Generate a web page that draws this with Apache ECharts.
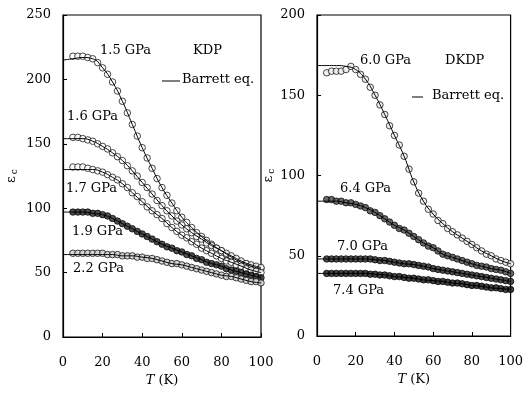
<!DOCTYPE html>
<html>
<head>
<meta charset="utf-8">
<script src="https://cdn.jsdelivr.net/npm/echarts@6/dist/echarts.min.js"></script>
<style>
  html, body { margin: 0; padding: 0; background: #fff; }
  #chart { width: 526px; height: 394px; }
</style>
</head>
<body>
<div id="chart"></div>
<script>
// temperatures (K) of the measured points and of the fit curves
var tData = [5,7.5,10,12.5,15,17.5,20,22.5,25,27.5,30,32.5,35,37.5,40,42.5,45,47.5,50,52.5,55,57.5,60,62.5,65,67.5,70,72.5,75,77.5,80,82.5,85,87.5,90,92.5,95,97.5,100];
var tFit = [0,5,10,15,20,25,30,35,40,45,50,55,60,65,70,75,80,85,90,95,100];
var xTicks = [0,20,40,60,80,100];

// KDP
var kdp15 = [218,218,218,217,216,213,209,204,198,191,183,174,165,156,147,139,131,123,116,110,104,98,93,89,85,81,78,75,72,69,67,64,62,60,58,57,55,54,53];
var kdp16 = [155,155,154,153,152,150,148,146,143,140,137,133,129,125,120,116,111,106,102,98,94,90,87,84,81,78,76,73,71,69,67,65,63,61,59,57,56,55,54];
var kdp17 = [132,132,132,131,130,129,128,126,124,122,119,116,112,109,105,101,98,95,92,88,85,82,79,77,74,72,69,67,65,63,61,59,58,56,55,53,52,51,50];
var kdp19 = [97,97,97,97,96,96,95,94,92,90,88,86,84,82,80,78,76,74,72,70,69,67,66,64,63,61,60,58,57,56,55,53,52,51,50,49,48,47,46];
var kdp22 = [65,65,65,65,65,65,65,64,64,64,63,63,63,62,62,61,61,60,59,58,57,57,56,55,54,53,52,51,50,49,48,47,47,46,45,44,43,43,42];
var fit15 = [215,216,217,216,209,198,183,165,147,131,116,104,93,85,78,72,67,62,58,55,53];
var fit16 = [154,154,154,152,148,143,137,129,120,111,102,94,87,81,76,71,67,63,59,56,54];
var fit17 = [130,130,130,130,128,124,119,112,105,98,92,85,79,74,69,65,61,58,55,52,50];
var fit19 = [97,97,97,96,95,92,88,84,80,76,72,69,66,63,60,57,55,52,50,48,46];
var fit22 = [64,64,64,64,64,64,63,63,62,61,59,57,56,54,52,50,48,47,45,43,42];

// DKDP
var dk60 = [164,165,165,165,166,168,166,163,160,155,150,144,138,131,125,119,112,104,96,89,84,79,76,72,70,67,65,63,61,59,57,55,53,51,50,48,47,46,45];
var dk64 = [85,85,84,84,83,83,82,81,80,78,77,75,73,71,69,67,66,64,62,60,58,56,55,53,51,50,49,48,47,46,45,44,43.5,43,42,41.5,41,40,39];
var dk70 = [48,48,48,48,48,48,48,48,48,48,47.5,47,47,46.5,46,45.5,45,45,44.5,44,43.5,43,42,41.5,41,40.5,40,39.5,39,38.5,38,37.5,37,36.5,36,35.5,35,34.5,34];
var dk74 = [39,39,39,39,39,39,39,39,39,38.5,38.5,38,38,37.5,37,37,36.5,36,36,35.5,35,35,34.5,34,34,33.5,33,33,32.5,32,31.5,31.5,31,30.5,30,30,29.5,29,29];
var fit60 = [168.5,168.5,168.5,168,166,160,150,138,125,112,96,84,76,70,65,61,57,53,50,47,45];
var fit64 = [84,84,84,83,82,80,77,73,69,66,62,58,55,51,49,47,45,43.5,42,41,39];
var fit70 = [48,48,48,48,48,48,47.5,47,46,45,44.5,43.5,42,41,40,39,38,37,36,35,34];
var fit74 = [39,39,39,39,39,39,38.5,38,37,36.5,36,35,34.5,34,33,32.5,31.5,31,30,29.5,29];

var serif = 'DejaVu Serif';

function pairs(xs, ys){
	var out = [];
	for (var i = 0; i < ys.length; i++) out.push([xs[i], ys[i]]);
	return out;
}

function pts(idx, vals, fill){
	return {
		type: 'scatter', xAxisIndex: idx, yAxisIndex: idx,
		data: pairs(tData, vals), symbol: 'circle', symbolSize: 6.5,
		itemStyle: { color: fill, borderColor: '#000', borderWidth: 0.9 },
		silent: true, z: 3
	};
}

function fit(idx, vals){
	return {
		type: 'line', xAxisIndex: idx, yAxisIndex: idx,
		data: pairs(tFit, vals), smooth: true, showSymbol: false,
		lineStyle: { color: '#000', width: 1 }, silent: true, z: 4
	};
}

function xAx(idx){
	return {
		gridIndex: idx, type: 'value', min: 0, max: 100, interval: 20,
		name: '{i|T} (K)', nameLocation: 'middle', nameGap: 36,
		nameTextStyle: { fontFamily: serif, fontSize: 13, color: '#000',
			rich: { i: { fontFamily: serif, fontStyle: 'italic', fontSize: 13, color: '#000' } } },
		axisLine: { lineStyle: { color: '#000', width: 1.2 } },
		axisTick: { inside: true, length: 4, lineStyle: { color: '#000' } },
		axisLabel: { fontFamily: serif, fontSize: 13, color: '#000', margin: 19 },
		splitLine: { show: false }
	};
}

function yAx(idx, max, gap){
	return {
		gridIndex: idx, type: 'value', min: 0, max: max, interval: 50,
		name: '{e|ε}{s|c}', nameLocation: 'middle', nameGap: gap, nameRotate: 90,
		nameTextStyle: { rich: {
			e: { fontFamily: serif, fontSize: 13, color: '#000' },
			s: { fontFamily: serif, fontSize: 9, color: '#000', padding: [6, 0, 0, 2] } } },
		axisLine: { lineStyle: { color: '#000', width: 1.2 } },
		axisTick: { inside: true, length: 4, lineStyle: { color: '#000' } },
		axisLabel: { fontFamily: serif, fontSize: 13, color: '#000', margin: 12 },
		splitLine: { show: false }
	};
}

function txt(x, y, s){
	return { type: 'text', left: x, top: y, silent: true,
		style: { text: s, fontFamily: serif, fontSize: 13, fill: '#000' } };
}

var dom = document.getElementById('chart');
var myChart = echarts.init(dom);
var option = {
	animation: false,
	backgroundColor: '#fff',
	grid: [
		{ left: 63, top: 15, width: 198, height: 322, show: true, borderColor: '#000', borderWidth: 1.2 },
		{ left: 317, top: 15, width: 198, height: 321, show: true, borderColor: '#000', borderWidth: 1.2 }
	],
	xAxis: [xAx(0), xAx(1)],
	yAxis: [yAx(0, 250, 44), yAx(1, 200, 36)],
	series: [
		pts(0, kdp15, '#fff'), pts(0, kdp16, '#fff'), pts(0, kdp17, '#fff'),
		pts(0, kdp19, '#222'), pts(0, kdp22, '#ccc'),
		fit(0, fit15), fit(0, fit16), fit(0, fit17), fit(0, fit19), fit(0, fit22),
		pts(1, dk60, '#eee'), pts(1, dk64, '#444'), pts(1, dk70, '#222'), pts(1, dk74, '#111'),
		fit(1, fit60), fit(1, fit64), fit(1, fit70), fit(1, fit74)
	],
	graphic: [
		txt(100, 44, '1.5 GPa'),
		txt(193, 44, 'KDP'),
		{ type: 'line', silent: true, shape: { x1: 162, y1: 81, x2: 180, y2: 81 }, style: { stroke: '#000', lineWidth: 1 } },
		txt(182, 73, 'Barrett eq.'),
		txt(67, 110, '1.6 GPa'),
		txt(66, 182, '1.7 GPa'),
		txt(72, 225, '1.9 GPa'),
		txt(73, 262, '2.2 GPa'),
		txt(360, 54, '6.0 GPa'),
		txt(445, 54, 'DKDP'),
		{ type: 'line', silent: true, shape: { x1: 412, y1: 97, x2: 423, y2: 97 }, style: { stroke: '#000', lineWidth: 1 } },
		txt(432, 89, 'Barrett eq.'),
		txt(340, 182, '6.4 GPa'),
		txt(337, 240, '7.0 GPa'),
		txt(333, 284, '7.4 GPa')
	]
};
myChart.setOption(option);
</script>
</body>
</html>
